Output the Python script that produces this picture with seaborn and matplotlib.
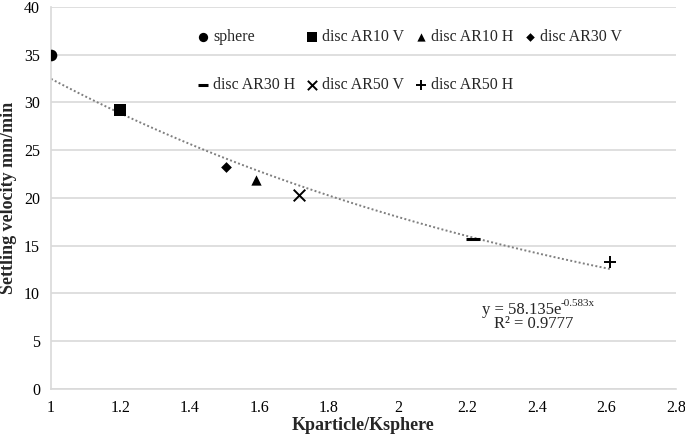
import numpy as np
import pandas as pd
import matplotlib
matplotlib.use("Agg")
import matplotlib.pyplot as plt
import seaborn as sns

labels = ["sphere", "disc AR10 V", "disc AR10 H", "disc AR30 V",
          "disc AR30 H", "disc AR50 V", "disc AR50 H"]
k_ratio = [1.0, 1.2, 1.59, 1.505, 2.215, 1.715, 2.61]
velocity = [35.0, 29.2, 21.9, 23.2, 15.7, 20.3, 13.3]
marker_list = ["o", "s", "^", "D", "_", "x", "+"]
marker_sizes = [70, 80, 55, 30, 90, 70, 80]
eq_base = "y = 58.135e"
eq_exp = "-0.583x"
r2_text = "R² = 0.9777"
x_ticks = [1, 1.2, 1.4, 1.6, 1.8, 2, 2.2, 2.4, 2.6, 2.8]
y_ticks = [0, 5, 10, 15, 20, 25, 30, 35, 40]

sns.set_theme(style="white")
plt.rcParams["font.family"] = ["Liberation Serif", "DejaVu Serif"]

df = pd.DataFrame({"x": k_ratio, "y": velocity, "label": labels})

fig = plt.figure(figsize=(6.85, 4.38), dpi=100)
ax = fig.add_axes([0.0745, 0.112, 0.912, 0.872])

# exponential trendline fitted from the data
b, log_a = np.polyfit(df["x"], np.log(df["y"]), 1)
xs = np.linspace(df["x"].min(), df["x"].max(), 100)
trend = pd.DataFrame({"x": xs, "y": np.exp(log_a) * np.exp(b * xs)})
sns.lineplot(data=trend, x="x", y="y", ax=ax, color="#7f7f7f",
             linestyle=(0, (1, 1.2)), linewidth=1.4, zorder=2, legend=False)

for lab, m, s in zip(labels, marker_list, marker_sizes):
    sub = df[df["label"] == lab]
    lw = 2.2 if m == "_" else (1.4 if m in ("x", "+") else 0)
    sns.scatterplot(data=sub, x="x", y="y", ax=ax, marker=m, s=s,
                    color="black", edgecolor="black", linewidth=lw,
                    label=lab, zorder=3)

ax.set_xlim(1, 2.8)
ax.set_ylim(0, 40)
ax.set_xticks(x_ticks)
ax.set_xticklabels([f"{t:g}" for t in x_ticks])
ax.set_yticks(y_ticks)
ax.tick_params(axis="both", labelsize=11.5, length=0, pad=8, colors="black")
ax.yaxis.grid(True, color="#d9d9d9", linewidth=1.2)
ax.xaxis.grid(False)
for side in ["top", "right"]:
    ax.spines[side].set_visible(False)
for side in ["left", "bottom"]:
    ax.spines[side].set_color("#d9d9d9")
    ax.spines[side].set_linewidth(1.2)

ax.set_xlabel("Kparticle/Ksphere", fontsize=13, fontweight="bold", labelpad=1)
ax.set_ylabel("Settling velocity mm/min", fontsize=13, fontweight="bold", labelpad=5)

base = ax.text(2.355, 8.3, eq_base, fontsize=12, ha="center", va="center")
ax.annotate(eq_exp, xy=(1, 0.62), xycoords=base, fontsize=8,
            ha="left", va="bottom")
ax.text(2.39, 6.75, r2_text, fontsize=12, ha="center", va="center")

handles, labs = ax.get_legend_handles_labels()
order = [0, 4, 1, 5, 2, 6, 3]
ax.legend([handles[i] for i in order], [labs[i] for i in order],
          loc="upper left", bbox_to_anchor=(0.224, 0.958), ncol=4,
          frameon=False, fontsize=11.4, handlelength=0.7, handletextpad=0.3,
          columnspacing=0.7, labelspacing=2.0, borderaxespad=0,
          markerscale=0.8)

fig.savefig("out.png", dpi=100)
